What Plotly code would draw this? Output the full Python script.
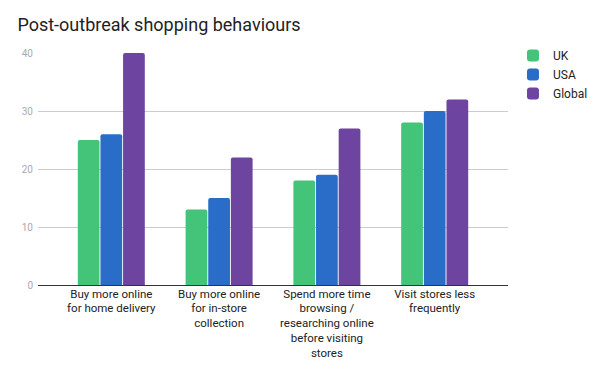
import plotly.graph_objects as go

categories = [
    "Buy more online<br>for home delivery",
    "Buy more online<br>for in-store<br>collection",
    "Spend more time<br>browsing /<br>researching online<br>before visiting<br>stores",
    "Visit stores less<br>frequently",
]
uk = [25, 13, 18, 28]
usa = [26, 15, 19, 30]
global_ = [40, 22, 27, 32]
series_names = ["UK", "USA", "Global"]
colors = ["#43c478", "#2a6dc9", "#6d45a1"]
y_ticks = [0, 10, 20, 30, 40]

fig = go.Figure()
for name, vals, col in zip(series_names, [uk, usa, global_], colors):
    fig.add_trace(go.Bar(name=name, x=categories, y=vals, marker=dict(color=col, line=dict(width=0))))

# page body has an 8px margin, so the figure is sized to fit the 597x370 window
fig.update_layout(
    width=589, height=362,
    margin=dict(l=30, r=89, t=45, b=85, autoexpand=False),
    paper_bgcolor="white", plot_bgcolor="white",
    font=dict(family="Roboto", color="#222222"),
    title=dict(text="Post-outbreak shopping behaviours", x=0.016, xanchor="left",
               y=0.953, yanchor="middle", font=dict(size=18, color="#222222"),
               automargin=False),
    barmode="group", bargap=0.37, bargroupgap=0.04,
    barcornerradius=2,
    showlegend=True,
    legend=dict(x=1.0106, y=1.052, xanchor="left", yanchor="top",
                font=dict(size=12, color="#222222"), tracegroupgap=0,
                itemwidth=30),
)
fig.update_xaxes(range=[-0.68, 3.68], showgrid=False, ticks="", showline=False,
                 tickfont=dict(size=11.5, color="#222222"), zeroline=False,
                 automargin=False)
fig.update_yaxes(range=[0, 40], tickvals=y_ticks, showgrid=True, gridcolor="#cccccc",
                 gridwidth=1, zeroline=True, zerolinecolor="#333333", zerolinewidth=1,
                 tickfont=dict(size=10, color="#aaaaaa"), ticks="", ticklabelstandoff=4,
                 automargin=False)
fig.write_html("out.html")
